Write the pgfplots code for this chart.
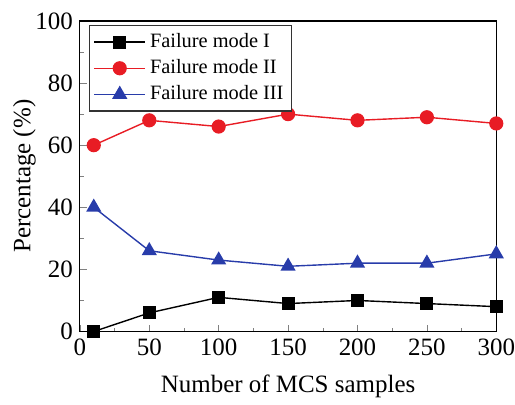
\documentclass[border=0pt]{standalone}
\usepackage{fontspec}
\setmainfont{Liberation Serif}
\usepackage{pgfplots}
\pgfplotsset{compat=1.18}
\definecolor{mred}{RGB}{232,28,36}
\definecolor{mblue}{RGB}{40,60,170}
\begin{document}
\begin{tikzpicture}
\begin{axis}[
  name=ax,
  width=208.5pt, height=155.5pt, scale only axis,
  xmin=0, xmax=300, ymin=0, ymax=100,
  xtick={0,50,...,300}, ytick={0,20,...,100},
  minor x tick num=1, minor y tick num=1,
  tick align=inside, xtick pos=bottom, ytick pos=left,
  major tick length=3.5pt, minor tick length=2pt,
  axis line style={line width=0.6pt},
  /pgf/number format/assume math mode=true,
  ticklabel style={font=\fontsize{12.5}{14}\selectfont},
  xticklabel style={inner xsep=0pt},
  label style={font=\fontsize{12.5}{14}\selectfont},
  xlabel={Number of MCS samples}, ylabel={Percentage (\%)},
  xlabel style={yshift=-3pt},
  ylabel shift=-7pt,
  legend style={at={(0.0216,0.987)}, anchor=north west, font=\fontsize{10.2}{12}\selectfont,
    draw=black!80, line width=0.6pt, inner sep=2pt, row sep=0.5pt, cells={anchor=west}},
  legend image code/.code={\draw[mark repeat=2,mark phase=2] plot coordinates {(0cm,0cm) (0.45cm,0cm) (0.9cm,0cm)};},
]
\addplot[black, line width=0.7pt, mark=square*, mark size=2.9pt] coordinates {(10,0) (50,6) (100,11) (150,9) (200,10) (250,9) (300,8)};
\addlegendentry{Failure mode I}
\addplot[mred, line width=0.7pt, mark=*, mark size=3.2pt] coordinates {(10,60) (50,68) (100,66) (150,70) (200,68) (250,69) (300,67)};
\addlegendentry{Failure mode II}
\addplot[mblue, line width=0.7pt, mark=triangle*, mark size=3.7pt] coordinates {(10,40) (50,26) (100,23) (150,21) (200,22) (250,22) (300,25)};
\addlegendentry{Failure mode III}
\end{axis}
\path (ax.north) ++(0,10.5pt);
\path (ax.east) ++(9pt,0);
\path (ax.west) ++(-40pt,0);
\path (ax.south) ++(0,-32pt);
\end{tikzpicture}
\end{document}
